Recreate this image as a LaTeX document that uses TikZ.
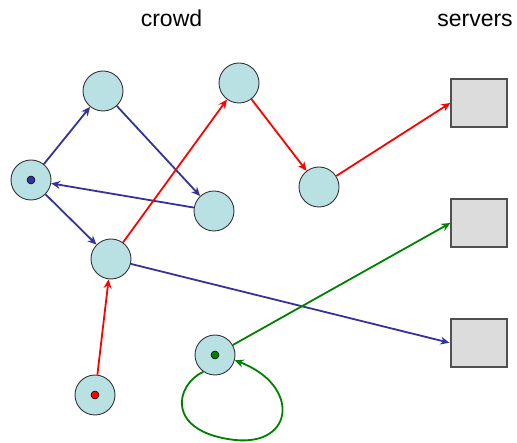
\documentclass[tikz,border=0pt]{standalone}
\usepackage{fontspec}
\setmainfont{Liberation Sans}
\usetikzlibrary{arrows.meta}
\definecolor{peerfill}{HTML}{B9E0E3}
\definecolor{boxfill}{HTML}{DCDCDC}
\definecolor{boxline}{HTML}{505050}
\definecolor{linkblue}{HTML}{333399}
\definecolor{linkred}{HTML}{FF0000}
\definecolor{linkgreen}{HTML}{008000}
\tikzset{
  peer/.style={circle, draw=black!80, fill=peerfill, line width=0.9pt, minimum size=40pt, inner sep=0pt},
  server/.style={rectangle, draw=boxline, fill=boxfill, line width=1.3pt, minimum width=56pt, minimum height=48pt, inner sep=0pt},
  dot/.style={circle, draw=black, line width=0.5pt, minimum size=8pt, inner sep=0pt},
  tip/.style={-{Stealth[length=9pt,width=8pt]}},
  link/.style={line width=1.8pt, tip},
  title/.style={font=\fontsize{23}{26}\selectfont, anchor=base, inner sep=0pt}
}
\begin{document}
\begin{tikzpicture}[x=1pt, y=-1pt]
  \useasboundingbox (0,0) rectangle (517,443);
  \node[title] (tcrowd) at (171.5,27) {crowd};
  \node[title] (tservers) at (475,27) {servers};

  % peers in the crowd
  \node[peer] (a) at (31,180) {};
  \node[peer] (b) at (103,91) {};
  \node[peer] (c) at (214,211) {};
  \node[peer] (d) at (111,259) {};
  \node[peer] (e) at (239,83) {};
  \node[peer] (f) at (319,187) {};
  \node[peer] (g) at (215,355) {};
  \node[peer] (h) at (95,395) {};
  \node[dot, fill=linkblue] (da) at (a) {};
  \node[dot, fill=linkgreen] (dg) at (g) {};
  \node[dot, fill=linkred] (dh) at (h) {};

  % servers
  \node[server] (s1) at (479,103) {};
  \node[server] (s2) at (479,223) {};
  \node[server] (s3) at (479,343) {};

  % blue path
  \draw[link, linkblue] (a) -- (b);
  \draw[link, linkblue] (b) -- (c);
  \draw[link, linkblue] (c) -- (a);
  \draw[link, linkblue] (a) -- (d);
  \draw[link, linkblue, shorten >=1pt] (d) -- (s3.west);

  % red path
  \draw[link, linkred] (h) -- (d);
  \draw[link, linkred] (d) -- (e);
  \draw[link, linkred] (e) -- (f);
  \draw[link, linkred] (f) -- (s1.west);

  % green path, with a loop back into the same peer
  \draw[link, linkgreen] (g) -- (s2.west);
  \draw[link, linkgreen]
    (g.235) .. controls (175,385) and (165,432) .. (235,440)
    .. controls (295,446) and (300,385) .. (g.-15);
\end{tikzpicture}
\end{document}
